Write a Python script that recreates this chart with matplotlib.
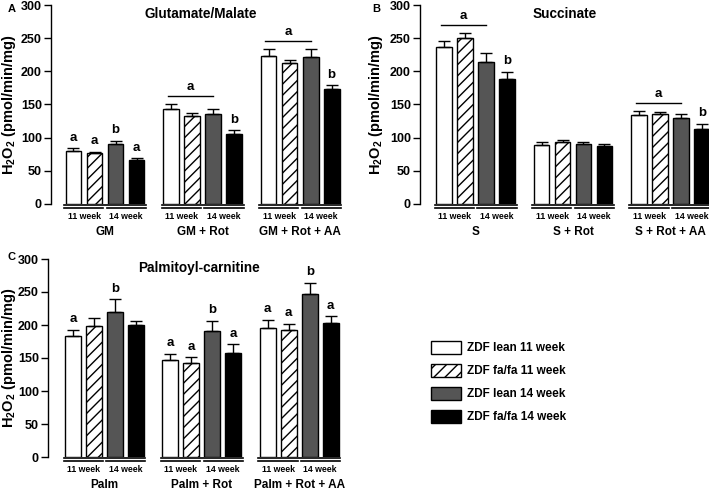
import matplotlib
matplotlib.use("Agg")
import matplotlib.pyplot as plt
from matplotlib.patches import Patch
import numpy as np

plt.rcParams['font.family'] = ['Liberation Sans', 'DejaVu Sans']
plt.rcParams['font.weight'] = 'bold'
plt.rcParams['mathtext.fontset'] = 'custom'
plt.rcParams['mathtext.rm'] = 'Liberation Sans:bold'
plt.rcParams['mathtext.bf'] = 'Liberation Sans:bold'
plt.rcParams['hatch.linewidth'] = 1.0

series = ["ZDF lean 11 week", "ZDF fa/fa 11 week", "ZDF lean 14 week", "ZDF fa/fa 14 week"]
face = ["white", "white", "#555555", "black"]
hatch = [None, "///", None, None]

# panel A: glutamate/malate
gm_groups = ["GM", "GM + Rot", "GM + Rot + AA"]
gm_vals = [[80, 77, 90, 67], [143, 133, 136, 106], [223, 212, 222, 173]]
gm_err = [[4, 2, 5, 2], [8, 4, 7, 5], [11, 5, 12, 6]]
gm_letters = [["a", "a", "b", "a"], [None, None, None, "b"], [None, None, None, "b"]]
gm_bars = [None, ("a", 0, 2), ("a", 0, 2)]

# panel B: succinate
s_groups = ["S", "S + Rot", "S + Rot + AA"]
s_vals = [[236, 250, 214, 189], [89, 93, 90, 87], [134, 135, 129, 113]]
s_err = [[9, 8, 14, 10], [4, 3, 4, 3], [6, 3, 7, 8]]
s_letters = [[None, None, None, "b"], [None] * 4, [None, None, None, "b"]]
s_bars = [("a", 0, 2), None, ("a", 0, 2)]

# panel C: palmitoyl-carnitine
p_groups = ["Palm", "Palm + Rot", "Palm + Rot + AA"]
p_vals = [[184, 199, 220, 200], [147, 143, 191, 157], [195, 193, 247, 203]]
p_err = [[9, 12, 19, 6], [9, 8, 15, 14], [13, 9, 17, 10]]
p_letters = [["a", None, "b", None], ["a", "a", "b", "a"], ["a", "a", "b", "a"]]

week_labels = ["11 week", "14 week"]

STEP = 4.64
W = 0.75


def draw_panel(ax, title, groups, vals, err, letters, sig, xlim, label_x):
    for g in range(len(groups)):
        x0 = g * STEP
        xs = x0 + np.arange(4)
        for i in range(4):
            ax.bar(xs[i], vals[g][i], W, color=face[i], edgecolor="black",
                   hatch=hatch[i], linewidth=1.0, zorder=2)
        ax.errorbar(xs, vals[g], yerr=[np.zeros(4), err[g]], fmt="none",
                    ecolor="black", elinewidth=1.0, capsize=4, capthick=1.0, zorder=3)
        for i in range(4):
            if letters[g][i]:
                ax.text(xs[i], vals[g][i] + err[g][i] + 7, letters[g][i],
                        ha="center", va="bottom", fontsize=9.5)
        if sig[g]:
            lab, a, b = sig[g]
            top = max(v + e for v, e in zip(vals[g][a:b + 1], err[g][a:b + 1]))
            ly = top + 12
            ax.plot([xs[a] - 0.15, xs[b]], [ly, ly], color="black", lw=1.0, clip_on=False)
            ax.text((xs[a] - 0.15 + xs[b]) / 2, ly + 5, lab, ha="center", va="bottom", fontsize=9.5)
        # baseline and week underlines
        ax.plot([xs[0] - 0.45, xs[3] + 0.45], [-1, -1], color="black", lw=1.2, clip_on=False)
        ax.plot([xs[0] - 0.45, xs[1] + 0.42], [-5.5, -5.5], color="black", lw=1.2, clip_on=False)
        ax.plot([xs[2] - 0.42, xs[3] + 0.45], [-5.5, -5.5], color="black", lw=1.2, clip_on=False)
        ax.text((xs[0] + xs[1]) / 2, -19, week_labels[0], ha="center", va="center", fontsize=6.3)
        ax.text((xs[2] + xs[3]) / 2, -19, week_labels[1], ha="center", va="center", fontsize=6.3)
        ax.text((xs[0] + xs[3]) / 2, -42, groups[g], ha="center", va="center", fontsize=8.5)
    ax.set_ylim(0, 300)
    ax.set_xlim(*xlim)
    ax.set_yticks(np.arange(0, 301, 50))
    ax.tick_params(axis="y", labelsize=9, length=5, width=1.0, pad=1.5)
    for lab in ax.get_yticklabels():
        lab.set_fontweight("bold")
    ax.set_xticks([])
    for s in ["top", "right", "bottom"]:
        ax.spines[s].set_visible(False)
    ax.spines["left"].set_linewidth(1.0)
    ax.set_ylabel("H$_{2}$O$_{2}$ (pmol/min/mg)", fontsize=10.5, fontweight="bold")
    ax.yaxis.set_label_coords(label_x, 0.5)
    ax.text(0.5, 0.955, title, transform=ax.transAxes, ha="center", va="center", fontsize=9.8)


fig = plt.figure(figsize=(7.09, 4.9), dpi=100)
axA = fig.add_axes([51 / 709, 286 / 490, 300 / 709, 199 / 490])
axB = fig.add_axes([420 / 709, 286 / 490, 289 / 709, 199 / 490])
axC = fig.add_axes([48 / 709, 33 / 490, 302 / 709, 198 / 490])

draw_panel(axA, "Glutamate/Malate", gm_groups, gm_vals, gm_err, gm_letters, gm_bars,
           (-1.07, 13.2), (18 - 51) / 300)
draw_panel(axB, "Succinate", s_groups, s_vals, s_err, s_letters, s_bars,
           (-1.15, 12.62), (385 - 420) / 289)
draw_panel(axC, "Palmitoyl-carnitine", p_groups, p_vals, p_err, p_letters, [None] * 3,
           (-1.19, 13.2), (18 - 48) / 302)

fig.text(8 / 709, 1 - 9 / 490, "A", fontsize=8, ha="left", va="center")
fig.text(372 / 709, 1 - 9 / 490, "B", fontsize=8, ha="left", va="center")
fig.text(8 / 709, 1 - 257 / 490, "C", fontsize=8, ha="left", va="center")

handles = [Patch(facecolor=face[i], edgecolor="black", hatch=hatch[i], linewidth=1.0)
           for i in range(4)]
fig.legend(handles, series, loc="upper left", bbox_to_anchor=(420 / 709, 1 - 330 / 490),
           frameon=False, fontsize=8.5, handlelength=2.6, handleheight=1.35,
           labelspacing=0.8, handletextpad=0.5)

fig.savefig("out.png", dpi=100)
